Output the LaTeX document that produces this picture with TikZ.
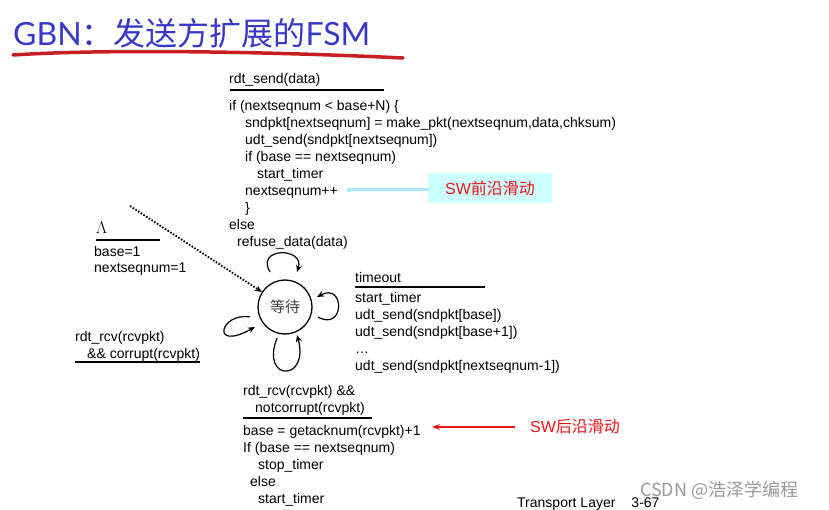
\documentclass[tikz,border=0pt]{standalone}
\usepackage{fontspec}
\setmainfont{Liberation Sans}
\newfontfamily\cjk{Noto Sans CJK SC}
\newfontfamily\titlelatin{Lato}
\usetikzlibrary{arrows.meta}
\definecolor{titleblue}{RGB}{55,55,200}
\definecolor{strokered}{RGB}{200,30,35}
\definecolor{tagred}{RGB}{235,20,20}
\definecolor{tagcyan}{RGB}{204,255,255}
\definecolor{linecyan}{RGB}{170,235,245}
\newcommand{\codefont}{\fontsize{14}{17}\selectfont}
\newcommand{\ind}[1]{\hspace*{#1pt}}

\begin{document}
\begin{tikzpicture}[x=1pt,y=1pt,
    code/.style={anchor=base west, inner sep=0pt, align=left, font=\codefont},
    guard/.style={line width=2.2pt},
    state/.style={circle, draw, line width=1.3pt, minimum size=54pt, inner sep=0pt, font=\cjk\fontsize{15}{15}\selectfont, text=black!75},
    selfloop/.style={line width=1.2pt, -{Stealth[length=7pt,width=6pt]}},
    tag/.style={inner sep=0pt, text=tagred, font=\fontsize{16}{16}\selectfont}
]
\useasboundingbox (0,0) rectangle (829,509);

% Title
\node[anchor=west, inner sep=0pt, text=titleblue, font=\fontsize{32}{32}\selectfont] (title) at (13,476) {\titlelatin GBN\cjk ：发送方扩展的\titlelatin FSM};
\draw[strokered, line width=3.5pt, line cap=round] (13,454) .. controls (120,461) and (300,456) .. (403,451);

% rdt_send (base anchor = last line)
\node[code] (sendev) at (229,425) {rdt\_send(data)};
\draw[guard] (230,419) -- (384,419);
\node[code] (sendact) at (229,262) {if (nextseqnum < base+N) \{\\
  \ind{16}sndpkt[nextseqnum] = make\_pkt(nextseqnum,data,chksum)\\
  \ind{16}udt\_send(sndpkt[nextseqnum])\\
  \ind{16}if (base == nextseqnum)\\
  \ind{28}start\_timer\\
  \ind{16}nextseqnum++\\
  \ind{16}\}\\
  else\\
  \ind{8}refuse\_data(data)};

% front of window
\node[tag, fill=tagcyan, minimum width=124pt, minimum height=30pt] (fronttag) at (490,321) {SW\cjk 前沿滑动};
\coordinate (frontend) at (349,319);
\draw[linecyan, line width=3pt, line cap=round] (fronttag.west |- frontend) -- (frontend);
\fill[linecyan] (frontend) circle (2.5pt);

% Init
\node[anchor=base west, inner sep=0pt, font=\fontsize{16}{16}\selectfont] (initev) at (96,275) {$\Lambda$};
\draw[guard] (96,269) -- (160,269);
\node[code] (initact) at (94,236) {base=1\\nextseqnum=1};

% State
\coordinate (init) at (130,303);
\node[state] (wait) at (285,202) {等待};
\draw[line width=1.8pt, dash pattern=on 1.6pt off 1.6pt, -{Stealth[length=7pt,width=6pt]}] (init) -- (wait);

% Self loops
\draw[selfloop] ([shift={(-15,35)}]wait.center) .. controls +(-15,25) and +(8,25) .. ([shift={(12,35)}]wait.center);
\draw[selfloop] ([shift={(33,-10)}]wait.center) .. controls +(27,-15) and +(28,15) .. ([shift={(32,10)}]wait.center);
\draw[selfloop] ([shift={(-35,-10)}]wait.center) .. controls +(-30,5) and +(-45,-25) .. ([shift={(-30,-20)}]wait.center);
\draw[selfloop] ([shift={(-8,-31)}]wait.center) .. controls +(-17,-44) and +(13,-47) .. ([shift={(12,-28)}]wait.center);

% Timeout
\node[code] (toev) at (355,226) {timeout};
\draw[guard] (355,222) -- (485,222);
\node[code] (toact) at (355,139) {start\_timer\\
  udt\_send(sndpkt[base])\\
  udt\_send(sndpkt[base+1])\\
  \dots\\
  udt\_send(sndpkt[nextseqnum-1])};

% Corrupt
\node[code] (corev) at (75,151) {rdt\_rcv(rcvpkt)\\\ind{12}\&\& corrupt(rcvpkt)};
\draw[guard] (75,147) -- (200,147);

% Ack
\node[code] (ackev) at (243,97) {rdt\_rcv(rcvpkt) \&\&\\\ind{12}notcorrupt(rcvpkt)};
\draw[guard] (243,91) -- (372,91);
\node[code] (ackact) at (243,6) {base = getacknum(rcvpkt)+1\\
  If (base == nextseqnum)\\
  \ind{15}stop\_timer\\
  \ind{7}else\\
  \ind{15}start\_timer};

% back of window
\node[tag, anchor=west] (backtag) at (530,83) {SW\cjk 后沿滑动};
\coordinate (backend) at (432,82);
\draw[tagred, line width=1.8pt, -{Stealth[length=8pt,width=6pt]}] ([xshift=-15pt]backtag.west |- backend) -- (backend);

% Footer
\node[anchor=base west, inner sep=0pt, font=\fontsize{14}{14}\selectfont] (footer) at (517,2) {Transport Layer\hspace{16pt}3-67};
\node[anchor=west, inner sep=0pt, text=black!40, font=\cjk\fontsize{18}{18}\selectfont] (mark) at (640,19) {CSDN @浩泽学编程};
\end{tikzpicture}
\end{document}
